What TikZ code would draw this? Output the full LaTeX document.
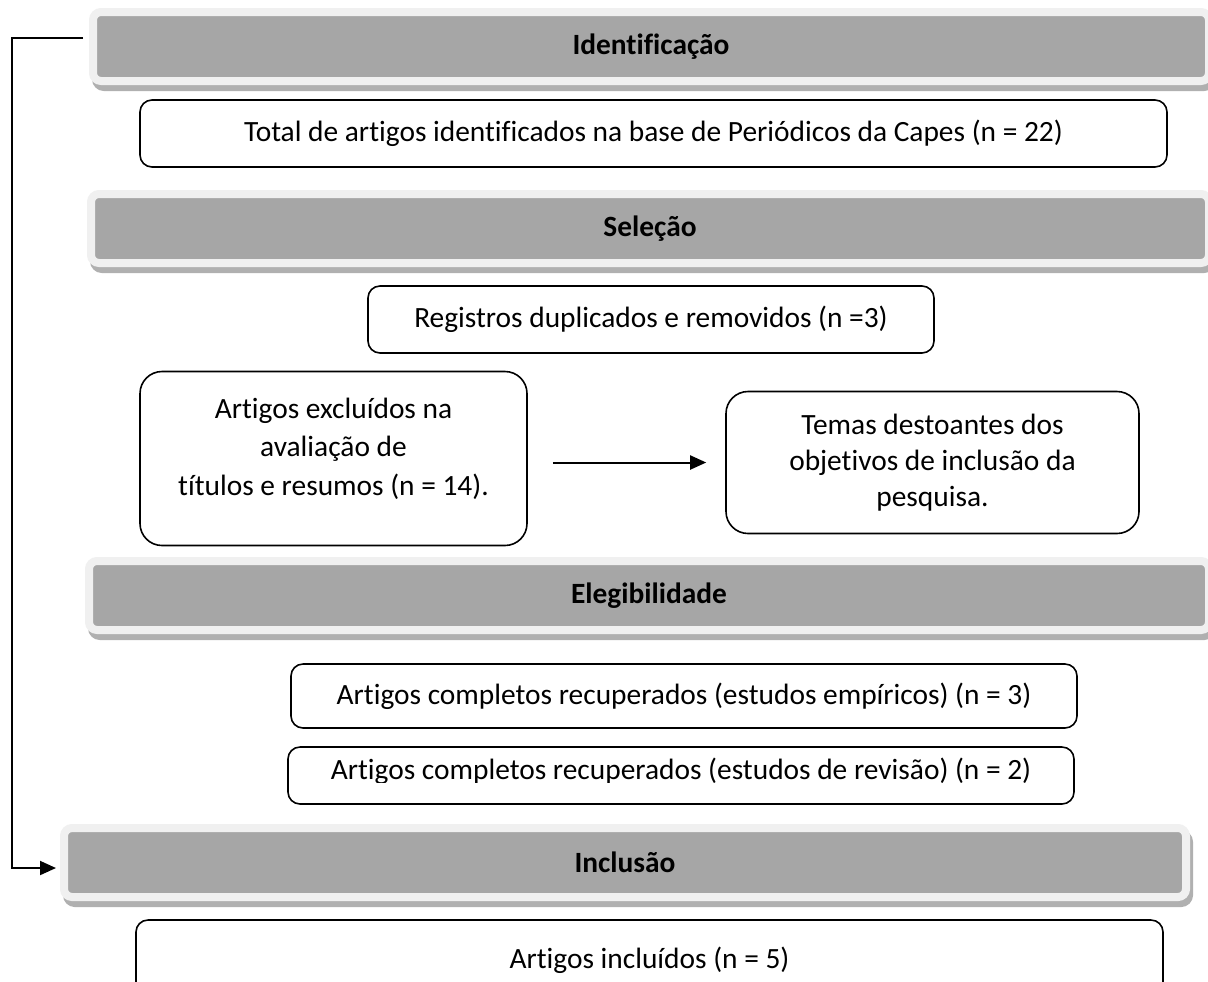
\documentclass[tikz,border=0pt]{standalone}
\usepackage{fontspec}
\setmainfont{Carlito}[Ligatures=NoCommon]
\usetikzlibrary{arrows.meta}
\definecolor{hdrlight}{HTML}{F0F0F0}
\definecolor{hdrdark}{HTML}{A6A6A6}
\definecolor{hdrshadow}{HTML}{B0B0B0}
\newcommand\boxfont{\fontsize{14.7}{19.25}\selectfont}
\tikzset{
	header/.style={rounded corners=4pt, fill=hdrdark, draw=hdrlight, line width=4pt,
		minimum height=34.5pt, font=\boxfont\bfseries,
		preaction={draw=hdrshadow, fill=hdrshadow, transform canvas={xshift=1.5pt,yshift=-3pt}}},
	stepbox/.style={draw, line width=0.8pt, rounded corners=6pt, align=center, inner sep=0pt},
	bigbox/.style={stepbox, rounded corners=11pt},
	flow/.style={-{Triangle[length=8pt,width=7pt]}, line width=1pt},
}
\begin{document}
\begin{tikzpicture}[x=0.5pt,y=-0.5pt, font=\boxfont]
	\useasboundingbox (0,0) rectangle (1208,981);
	% phase bars
	\node[header, minimum width=558pt] (ident) at (651,46.5) {Identificação};
	\node[header, minimum width=559pt] (selec) at (650,228.5) {Seleção};
	\node[header, minimum width=560pt] (eleg) at (649,595.5) {Elegibilidade};
	\node[header, minimum width=561pt] (incl) at (625,862.5) {Inclusão};
	% boxes
	\node[stepbox, minimum width=513.5pt, minimum height=33.5pt] (total) at (653.5,133.5)
		{Total de artigos identificados na base de Periódicos da Capes (n = 22)};
	\node[stepbox, minimum width=283pt, minimum height=33.5pt] (regis) at (651,319.5)
		{Registros duplicados e removidos (n =3)};
	\node[bigbox, minimum width=193.5pt, minimum height=87pt, text depth=12pt] (excl) at (333.5,458.5)
		{Artigos excluídos na\\avaliação de\\títulos e resumos (n = 14).};
	\node[bigbox, minimum width=206.5pt, minimum height=71pt, font=\fontsize{14.7}{18}\selectfont] (temas) at (932.5,462.5)
		{Temas destoantes dos\\objetivos de inclusão da\\pesquisa.};
	\node[stepbox, minimum width=393pt, minimum height=32pt] (comp1) at (684,696)
		{Artigos completos recuperados (estudos empíricos) (n = 3)};
	\node[stepbox, minimum width=393pt, minimum height=28.5pt] (comp2) at (681,775.5) {};
	\begin{scope}
		\clip (288,747) rectangle (1074,782);
		\node[anchor=base] (comp2text) at (681,779)
			{Artigos completos recuperados (estudos de revisão) (n = 2)};
	\end{scope}
	\node[stepbox, minimum width=513.5pt, minimum height=40pt] (final) at (649.5,960)
		{Artigos incluídos (n = 5)};
	% connectors
	\draw[flow, shorten <=12.5pt, shorten >=9.5pt] (excl.east |- temas) -- (temas.west);
	\coordinate (loopstart) at (83,38);
	\draw[flow, shorten >=2pt] (loopstart) -- (12,38) |- ([yshift=-2.75pt]incl.west);
\end{tikzpicture}
\end{document}
